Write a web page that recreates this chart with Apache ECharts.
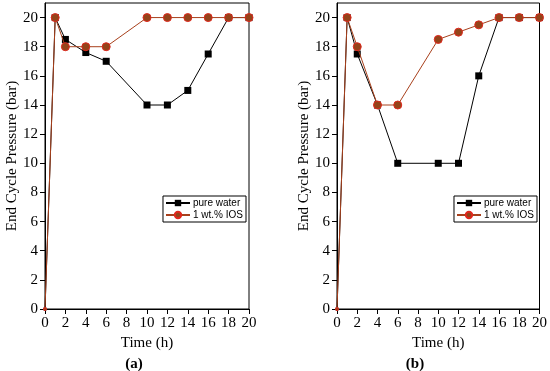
<!DOCTYPE html>
<html>
<head>
<meta charset="utf-8">
<script src="https://cdn.jsdelivr.net/npm/echarts@6/dist/echarts.min.js"></script>
<style>html,body{margin:0;padding:0;background:#fff}#c{width:550px;height:371px}</style>
</head>
<body>
<div id="c"></div>
<script>
var timeA = [0, 1, 2, 4, 6, 10, 12, 14, 16, 18, 20];
var waterA = [0, 20, 18.5, 17.6, 17, 14, 14, 15, 17.5, 20, 20];
var iosA = [0, 20, 18, 18, 18, 20, 20, 20, 20, 20, 20];
var timeB = [0, 1, 2, 4, 6, 10, 12, 14, 16, 18, 20];
var waterB = [0, 20, 17.5, 14, 10, 10, 10, 16, 20, 20, 20];
var iosB = [0, 20, 18, 14, 14, 18.5, 19, 19.5, 20, 20, 20];
var yTicks = [0, 2, 4, 6, 8, 10, 12, 14, 16, 18, 20];
var xTicks = [0, 2, 4, 6, 8, 10, 12, 14, 16, 18, 20];
var seriesNames = ['pure water', '1 wt.% IOS'];
var panelLabels = ['(a)', '(b)'];

function pairs(xs, ys) { return xs.map(function (x, i) { return [x, ys[i]]; }); }

var serif = 'Liberation Serif';
function xAxis(idx) {
  return {
    type: 'value', gridIndex: idx, min: 0, max: 20, interval: 2,
    name: 'Time (h)', nameLocation: 'middle', nameGap: 26,
    nameTextStyle: { fontFamily: serif, fontSize: 15, color: '#000' },
    axisLine: { onZero: false, lineStyle: { color: '#000', width: 1 } },
    axisTick: { show: true, inside: false, length: 5, lineStyle: { color: '#000' } },
    axisLabel: { fontFamily: serif, fontSize: 15, color: '#000', margin: 7 },
    splitLine: { show: false }
  };
}
function yAxis(idx) {
  return {
    type: 'value', gridIndex: idx, min: 0, max: 21, interval: 2,
    name: 'End Cycle Pressure (bar)', nameLocation: 'middle', nameGap: 25,
    nameTextStyle: { fontFamily: serif, fontSize: 15, color: '#000' },
    axisLine: { onZero: false, lineStyle: { color: '#000', width: 1 } },
    axisTick: { show: true, inside: false, length: 5, lineStyle: { color: '#000' }, customValues: yTicks },
    axisLabel: { fontFamily: serif, fontSize: 15, color: '#000', margin: 7, customValues: yTicks },
    splitLine: { show: false }
  };
}
function sizeFn(big) { return function (v) { return v[1] === 0 ? 3 : big; }; }
function waterSeries(idx, data) {
  return {
    name: seriesNames[0], type: 'line', xAxisIndex: idx, yAxisIndex: idx,
    data: data, symbol: 'rect', symbolSize: sizeFn(7), showAllSymbol: true,
    lineStyle: { color: '#000', width: 1 },
    itemStyle: { color: '#000', borderColor: '#000', borderWidth: 0 },
    emphasis: { disabled: true }, z: 2, animation: false
  };
}
function iosSeries(idx, data) {
  return {
    name: seriesNames[1], type: 'line', xAxisIndex: idx, yAxisIndex: idx,
    data: data, symbol: 'circle', symbolSize: sizeFn(8), showAllSymbol: true,
    lineStyle: { color: '#a8401c', width: 1 },
    itemStyle: { color: '#94441a', borderColor: '#e0281e', borderWidth: 1 },
    emphasis: { disabled: true }, z: 3, animation: false
  };
}
function legend(right) {
  return {
    data: seriesNames, orient: 'vertical', right: right, top: 196,
    itemWidth: 24, itemHeight: 8, itemGap: 2, padding: [2, 3, 2, 2],
    borderColor: '#000', borderWidth: 1, backgroundColor: '#fff',
    textStyle: { fontFamily: 'Liberation Sans', fontSize: 10, color: '#000', padding: [0, 0, 0, -2] },
    selectedMode: false
  };
}

var chart = echarts.init(document.getElementById('c'), null, { renderer: 'canvas' });
chart.setOption({
  animation: false,
  backgroundColor: '#fff',
  grid: [
    { left: 45, right: 301, top: 3, bottom: 62, show: true, borderColor: '#000', borderWidth: 1, backgroundColor: 'transparent' },
    { left: 337, right: 10, top: 3, bottom: 62, show: true, borderColor: '#000', borderWidth: 1, backgroundColor: 'transparent' }
  ],
  title: [
    { text: panelLabels[0], left: 129, top: 352, textAlign: 'center', textStyle: { fontFamily: serif, fontSize: 15, fontWeight: 'bold', color: '#000' } },
    { text: panelLabels[1], left: 410, top: 352, textAlign: 'center', textStyle: { fontFamily: serif, fontSize: 15, fontWeight: 'bold', color: '#000' } }
  ],
  legend: [
    Object.assign(legend(304), { id: 'la' }),
    Object.assign(legend(13), { id: 'lb' })
  ],
  xAxis: [xAxis(0), xAxis(1)],
  yAxis: [yAxis(0), yAxis(1)],
  series: [
    waterSeries(0, pairs(timeA, waterA)),
    iosSeries(0, pairs(timeA, iosA)),
    waterSeries(1, pairs(timeB, waterB)),
    iosSeries(1, pairs(timeB, iosB))
  ]
});
</script>
</body>
</html>
